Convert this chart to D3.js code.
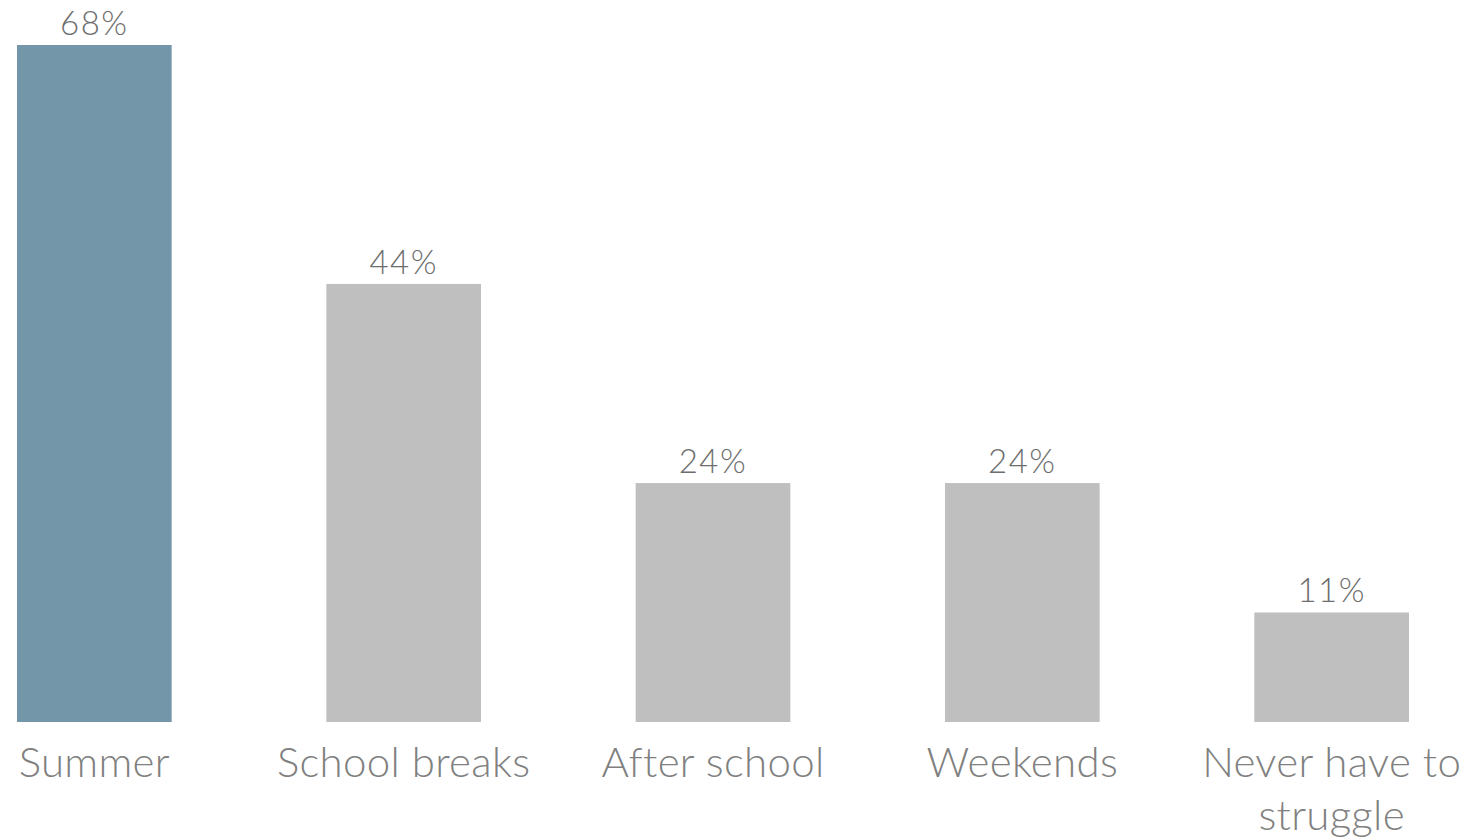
<!DOCTYPE html>
<html>
<head>
<meta charset="utf-8">
<script src="https://cdn.jsdelivr.net/npm/d3@7"></script>
<style>
  html, body { margin: 0; padding: 0; background: #ffffff; }
  svg { display: block; }
  text { font-family: Lato, "Open Sans", sans-serif; font-weight: 300; }
</style>
</head>
<body>
<svg id="chart" width="1466" height="840"></svg>
<script>
// Times of year when families struggle (share of respondents)
const categories = ["Summer", "School breaks", "After school", "Weekends", "Never have to struggle"];
const labelLines = [["Summer"], ["School breaks"], ["After school"], ["Weekends"], ["Never have to", "struggle"]];
const values = [68, 44, 24, 24, 11];
const highlight = "Summer";

const svg = d3.select("#chart");
const baseline = 722;

const x = d3.scaleBand()
  .domain(categories)
  .range([17 - 0.25 * 309.33, 17 - 0.25 * 309.33 + 5 * 309.33])
  .paddingInner(0.5)
  .paddingOuter(0.25);

const y = d3.scaleLinear()
  .domain([0, 68])
  .range([baseline, 45]);

// bars
svg.append("g").selectAll("rect")
  .data(categories)
  .join("rect")
  .attr("x", d => x(d))
  .attr("y", (d, i) => y(values[i]))
  .attr("width", x.bandwidth())
  .attr("height", (d, i) => baseline - y(values[i]))
  .attr("fill", d => d === highlight ? "#7397a8" : "#bfbfbf");

// value labels above bars
svg.append("g").selectAll("text")
  .data(categories)
  .join("text")
  .attr("x", d => x(d) + x.bandwidth() / 2)
  .attr("y", (d, i) => y(values[i]) - 10)
  .attr("text-anchor", "middle")
  .attr("font-size", 33)
  .attr("letter-spacing", 1.5)
  .attr("fill", "#6e6e6e")
  .text((d, i) => values[i] + "%");

// category labels under bars, wrapped where needed
const cat = svg.append("g").selectAll("text")
  .data(categories)
  .join("text")
  .attr("x", d => x(d) + x.bandwidth() / 2)
  .attr("y", 777)
  .attr("text-anchor", "middle")
  .attr("font-size", 42)
  .attr("letter-spacing", 0.3)
  .attr("fill", "#808080");

cat.selectAll("tspan")
  .data((d, i) => labelLines[i])
  .join("tspan")
  .attr("x", function () { return d3.select(this.parentNode).attr("x"); })
  .attr("dy", (d, j) => j === 0 ? 0 : 53)
  .text(d => d);
</script>
</body>
</html>
